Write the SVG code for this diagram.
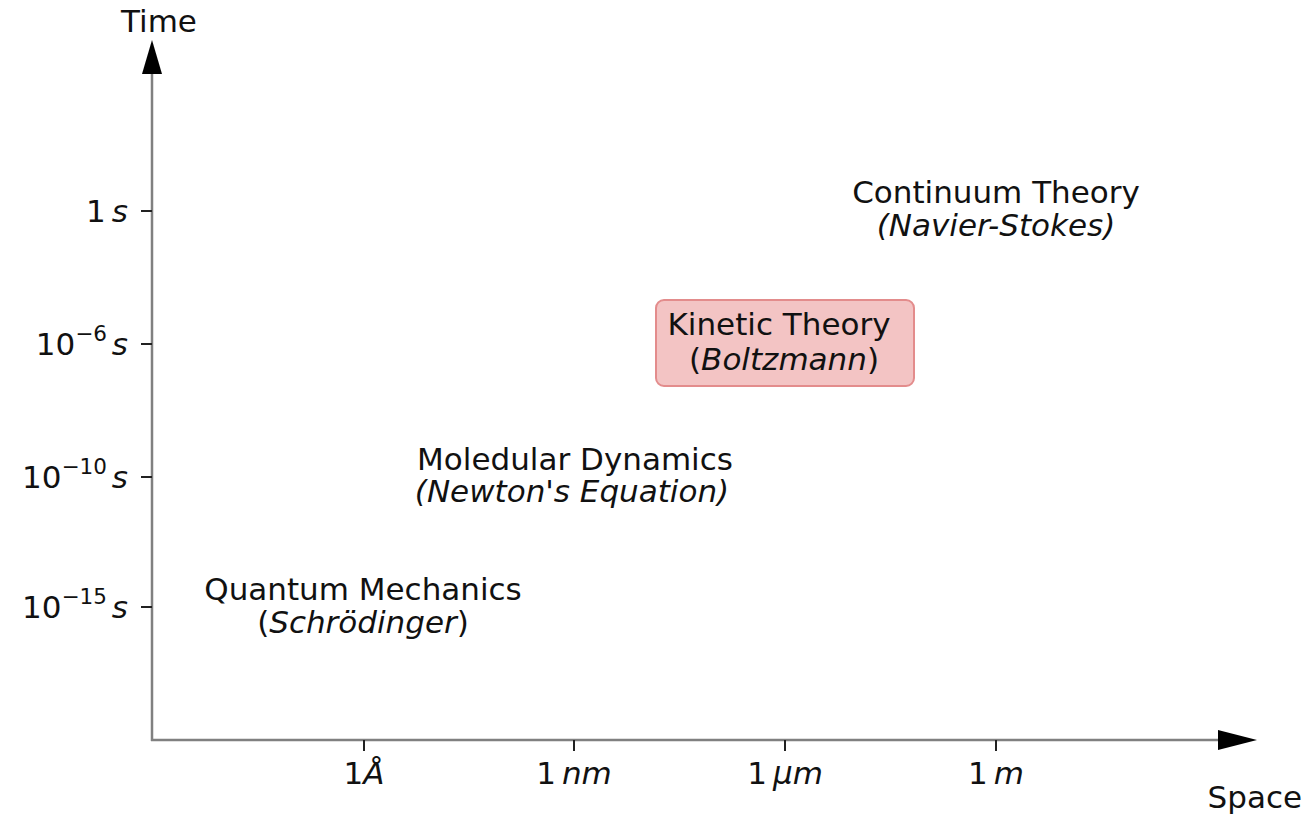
<svg xmlns="http://www.w3.org/2000/svg" width="1309" height="818" viewBox="0 0 1309 818">
<style>
text{font-family:"DejaVu Sans",sans-serif;font-size:31px;fill:#111}
.i{font-style:italic}
.c{text-anchor:middle}
.e{text-anchor:end}
.sup{font-size:21.5px}
.ax{stroke:#808080;stroke-width:2.5;fill:none}
.tk{stroke:#222;stroke-width:2}
</style>
<rect width="1309" height="818" fill="#fff"/>
<g id="axes">
<line class="ax" x1="152" y1="741" x2="152" y2="70"/>
<line class="ax" x1="151" y1="740" x2="1222" y2="740"/>
<path d="M152 40 L162 74 L142 74 Z" fill="#000"/>
<path d="M1257 740 L1218 730 L1218 750 Z" fill="#000"/>
<line class="tk" x1="141" y1="211" x2="152" y2="211"/>
<line class="tk" x1="141" y1="344" x2="152" y2="344"/>
<line class="tk" x1="141" y1="477" x2="152" y2="477"/>
<line class="tk" x1="141" y1="607" x2="152" y2="607"/>
<line class="tk" x1="364" y1="740" x2="364" y2="751"/>
<line class="tk" x1="574" y1="740" x2="574" y2="751"/>
<line class="tk" x1="785" y1="740" x2="785" y2="751"/>
<line class="tk" x1="996" y1="740" x2="996" y2="751"/>
<text x="159" y="32" class="c">Time</text>
<text x="1302" y="808" class="e">Space</text>
<text x="128" y="222" class="e">1<tspan class="i" dx="6">s</tspan></text>
<text x="128" y="355" class="e">10<tspan class="sup" dy="-14">−6</tspan><tspan class="i" dx="5" dy="14">s</tspan></text>
<text x="128" y="488" class="e">10<tspan class="sup" dy="-14">−10</tspan><tspan class="i" dx="5" dy="14">s</tspan></text>
<text x="128" y="618" class="e">10<tspan class="sup" dy="-14">−15</tspan><tspan class="i" dx="5" dy="14">s</tspan></text>
<text x="364" y="784" class="c">1<tspan class="i">Å</tspan></text>
<text x="574" y="784" class="c">1<tspan class="i" dx="6">nm</tspan></text>
<text x="785" y="784" class="c">1<tspan class="i" dx="6">μm</tspan></text>
<text x="996" y="784" class="c">1<tspan class="i" dx="6">m</tspan></text>
</g>
<g id="continuum">
<text x="996" y="203" class="c">Continuum Theory</text>
<text x="996" y="236" class="c i">(Navier-Stokes)</text>
</g>
<g id="kinetic">
<rect x="656" y="300" width="258" height="86" rx="8" fill="#f3c4c4" stroke="#e38c8c" stroke-width="2"/>
<text x="779" y="335" class="c">Kinetic Theory</text>
<text x="784" y="370" class="c">(<tspan class="i">Boltzmann</tspan>)</text>
</g>
<g id="molecular">
<text x="575" y="470" class="c">Moledular Dynamics</text>
<text x="572" y="502" class="c i">(Newton's Equation)</text>
</g>
<g id="quantum">
<text x="363" y="600" class="c">Quantum Mechanics</text>
<text x="363" y="633" class="c">(<tspan class="i">Schrödinger</tspan>)</text>
</g>
</svg>
